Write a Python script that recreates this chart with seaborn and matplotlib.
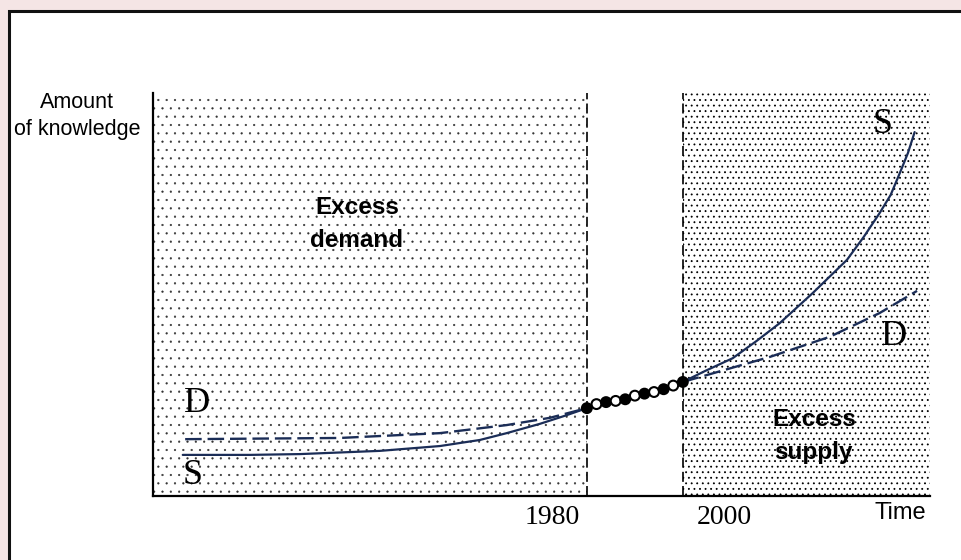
import matplotlib
matplotlib.use("Agg")
import pandas as pd
import matplotlib.pyplot as plt
from matplotlib.patches import Rectangle
import seaborn as sns

sns.set_theme(style="white")
plt.rcParams["font.family"] = ["Liberation Sans", "DejaVu Sans"]
plt.rcParams["text.color"] = "black"
plt.rcParams["hatch.color"] = "black"

SERIF = ["Liberation Serif", "DejaVu Serif"]
NAVY = "#1b2d57"

# supply curve S, before 1980 and after 2000
s_years_before = [1895.8, 1909.8, 1920.2, 1936.9, 1949.4, 1957.7, 1963.3, 1970.2, 1975.4, 1980.0]
s_amount_before = [10.2, 10.2, 10.4, 11.2, 12.4, 13.9, 15.6, 17.9, 19.9, 21.8]
s_years_after = [2000.0, 2004.6, 2010.4, 2015.4, 2020.2, 2027.1, 2034.2, 2037.7,
                 2041.0, 2043.3, 2045.2, 2046.9, 2048.3]
s_amount_after = [28.3, 31.0, 34.2, 38.5, 42.9, 50.4, 58.6, 64.3,
                  70.2, 74.7, 80.1, 85.1, 90.3]

# demand curve D, before 1980 and after 2000
d_years_before = [1896.3, 1928.5, 1949.4, 1963.3, 1972.3, 1980.0]
d_amount_before = [14.1, 14.4, 15.6, 17.6, 19.4, 21.8]
d_years_after = [2000.0, 2018.1, 2030.6, 2041.0, 2048.8]
d_amount_after = [28.3, 34.5, 39.5, 45.4, 50.9]

# equilibrium chain 1980-2000 (filled / open circles)
eq_years = [1980, 1982, 1984, 1986, 1988, 1990, 1992, 1994, 1996, 1998, 2000]
eq_amount = [21.8, 22.8, 23.3, 23.6, 24.0, 24.9, 25.4, 25.8, 26.5, 27.4, 28.3]
eq_filled = ["filled", "open", "filled", "open", "filled", "open",
             "filled", "open", "filled", "open", "filled"]

X_MIN, X_MAX = 1889.6, 2051.5
BREAK_1, BREAK_2 = 1980, 2000

fig = plt.figure(figsize=(9.61, 5.6), dpi=100)
fig.set_facecolor("#f5e5e5")

# white panel with black left/top border
fig.patches.append(Rectangle((8.7 / 961, -0.2), 1.2, 1.2 - 11 / 560,
                             transform=fig.transFigure, facecolor="white",
                             edgecolor="#111111", linewidth=2.2, zorder=-5))

ax = fig.add_axes([153 / 961, 64 / 560, 777 / 961, 403 / 560])
ax.set_zorder(2)
ax.set_facecolor("white")
ax.set_xlim(X_MIN, X_MAX)
ax.set_ylim(0, 100)

# dotted regions (sparse on the left, dense on the right)
plt.rcParams["hatch.linewidth"] = 0.35
ax.axvspan(X_MIN, BREAK_1, facecolor="white", edgecolor="#333333", hatch="..", linewidth=0, zorder=0)
plt.rcParams["hatch.linewidth"] = 0.6
ax.axvspan(BREAK_2, X_MAX, facecolor="white", edgecolor="black", hatch="...", linewidth=0, zorder=0)

for xv in (BREAK_1, BREAK_2):
    ax.axvline(xv, color="black", linewidth=1.2, linestyle=(0, (6, 2.5)), zorder=2)

sns.lineplot(x=s_years_before, y=s_amount_before, ax=ax, color=NAVY, linewidth=1.6, zorder=3)
sns.lineplot(x=s_years_after, y=s_amount_after, ax=ax, color=NAVY, linewidth=1.6, zorder=3)
sns.lineplot(x=d_years_before, y=d_amount_before, ax=ax, color=NAVY, linewidth=1.7,
             linestyle=(0, (7, 2.5)), zorder=3)
sns.lineplot(x=d_years_after, y=d_amount_after, ax=ax, color=NAVY, linewidth=1.7,
             linestyle=(0, (7, 2.5)), zorder=3)

eq = pd.DataFrame({"ano": eq_years, "valor": eq_amount, "tipo": eq_filled})
sns.scatterplot(data=eq, x="ano", y="valor", hue="tipo",
                palette={"filled": "black", "open": "white"},
                edgecolor="black", linewidth=1.5, s=50, legend=False, ax=ax, zorder=5)

ax.set_xticks([])
ax.set_yticks([])
ax.set_xlabel("")
ax.set_ylabel("")
for side in ("top", "right"):
    ax.spines[side].set_visible(False)
for side in ("left", "bottom"):
    ax.spines[side].set_color("black")
    ax.spines[side].set_linewidth(1.6)

# region labels
ax.text(1932.1, 67.5, "Excess\ndemand", ha="center", va="center",
        fontsize=17.5, fontweight="bold", linespacing=1.6, zorder=4)
ax.text(2027.3, 14.9, "Excess\nsupply", ha="center", va="center",
        fontsize=17.5, fontweight="bold", linespacing=1.6, zorder=4)

# curve labels
ax.text(1898.75, 22.9, "D", ha="center", va="center", fontsize=26, family=SERIF)
ax.text(1897.9, 5.1, "S", ha="center", va="center", fontsize=26, family=SERIF)
ax.text(2041.7, 92.3, "S", ha="center", va="center", fontsize=26, family=SERIF)
ax.text(2044.1, 39.6, "D", ha="center", va="center", fontsize=26, family=SERIF)

# axis texts
fig.text(77 / 961, 1 - 116 / 560, "Amount\nof knowledge", ha="center", va="center",
         fontsize=15.5, linespacing=1.35)
fig.text(900 / 961, 1 - 513 / 560, "Time", ha="center", va="center", fontsize=17)
fig.text(580 / 961, 1 - 517 / 560, "1980", ha="right", va="center", fontsize=20, family=SERIF)
fig.text(697 / 961, 1 - 517 / 560, "2000", ha="left", va="center", fontsize=20, family=SERIF)

fig.savefig("out.png", dpi=100, facecolor=fig.get_facecolor())
